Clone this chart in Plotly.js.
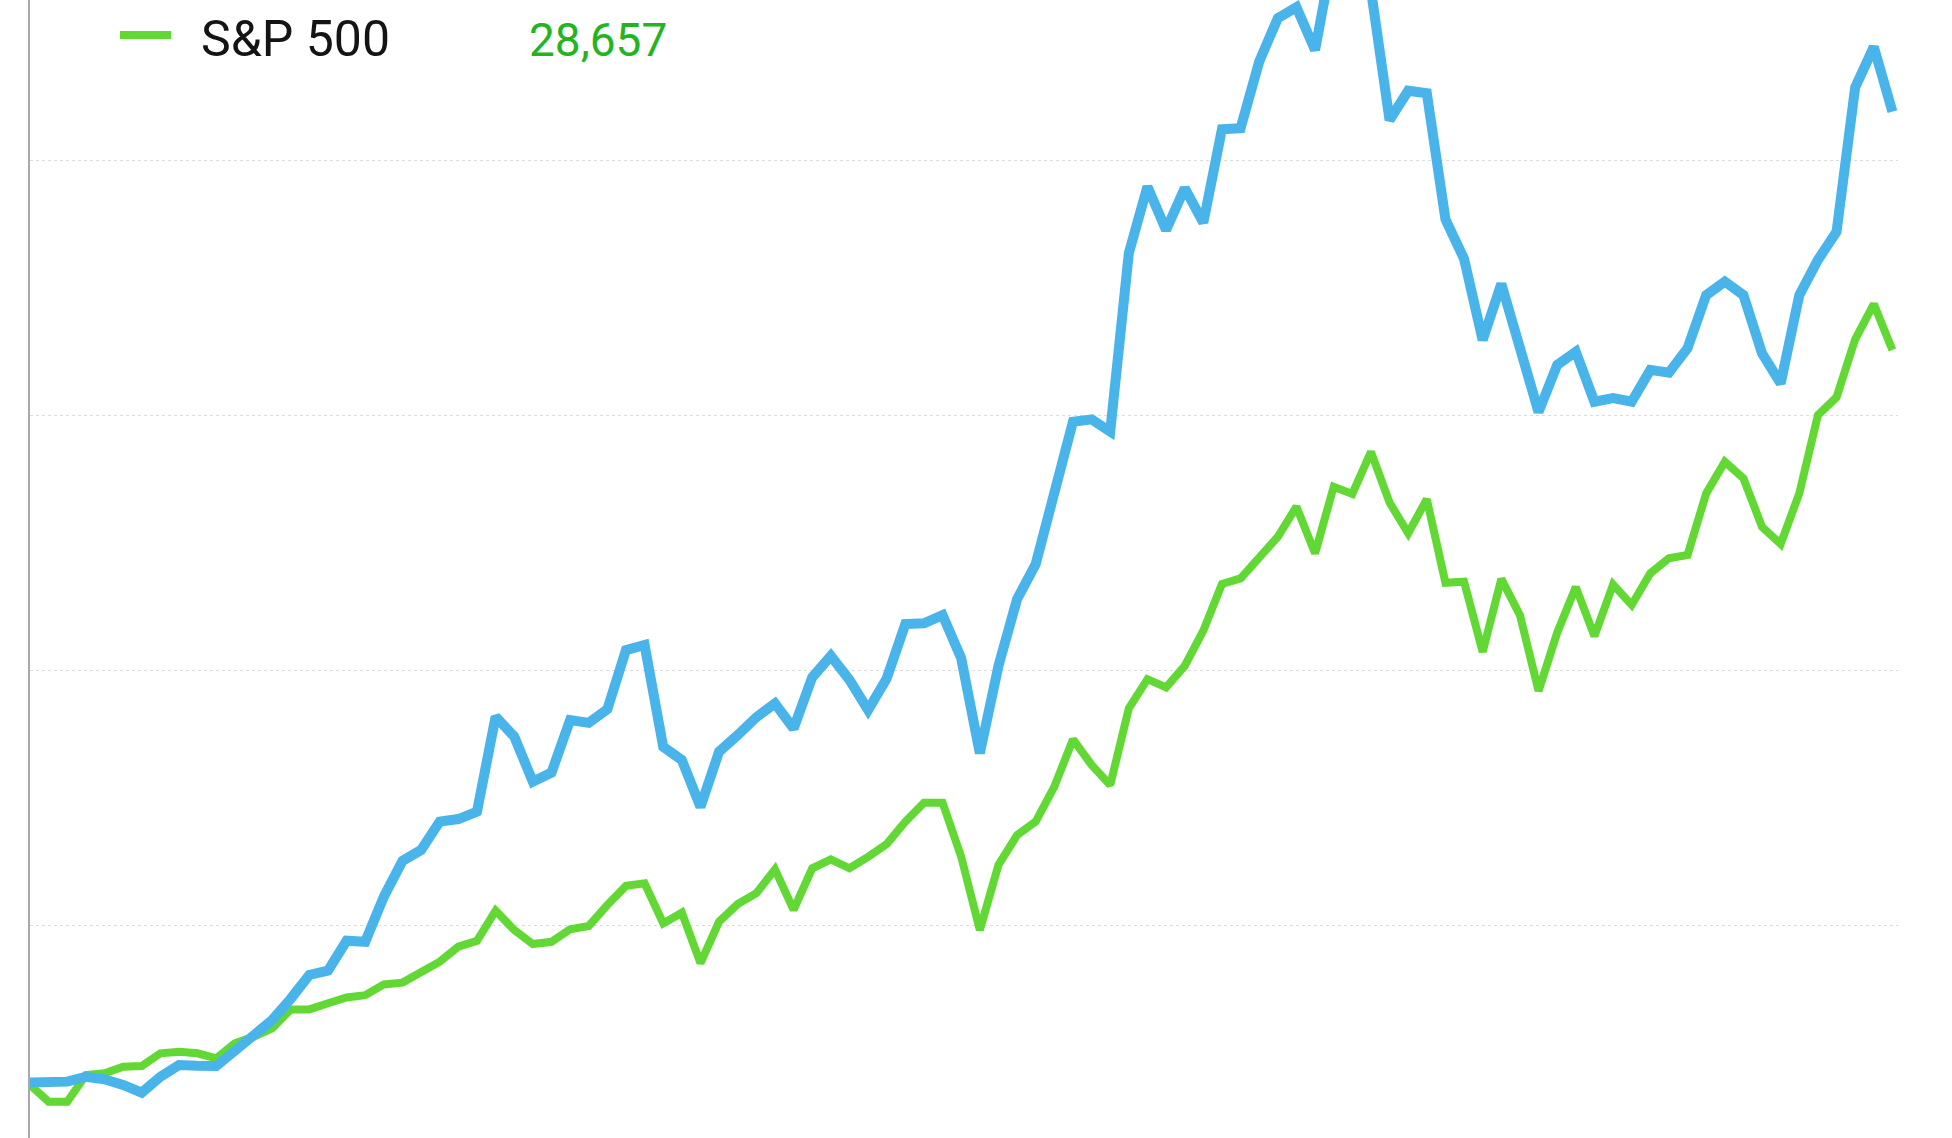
<!DOCTYPE html>
<html>
<head>
<meta charset="utf-8">
<script src="https://cdn.plot.ly/plotly-3.0.1.min.js"></script>
<style>
  html, body { margin: 0; padding: 0; background: #ffffff; }
  #chart { width: 1952px; height: 1138px; }
</style>
</head>
<body>
<div id="chart"></div>
<script>
// Growth values, one point per period
const portfolioValues = [
  13860, 13850, 13890, 14080, 13980, 13760, 13460, 14080, 14540, 14510,
  14500, 15100, 15680, 16300, 17140, 18070, 18240, 19410, 19370, 21140,
  22540, 22970, 24080, 24180, 24470, 28190, 27410, 25640, 26000, 28060,
  27950, 28480, 30800, 31000, 27010, 26490, 24660, 26820, 27470, 28170,
  28710, 27730, 29730, 30570, 29630, 28450, 29690, 31820, 31850, 32170,
  30480, 26760, 30180, 32800, 34170, 36840, 39750, 39840, 39360, 46350,
  48960, 47260, 48900, 47550, 51210, 51250, 53860, 55560, 55990, 54310,
  58230, 59210, 56670, 51570, 52720, 52620, 47680, 46130, 42950, 45150,
  42690, 40130, 41970, 42490, 40530, 40670, 40530, 41780, 41670, 42630,
  44710, 45240, 44710, 42430, 41250, 44710, 46090, 47190, 52850, 54440,
  51900
];
const sp500Values = [
  13760, 13100, 13100, 14150, 14220, 14470, 14500, 15000, 15060, 15000,
  14800, 15390, 15650, 15980, 16720, 16720, 16960, 17190, 17280, 17700,
  17770, 18160, 18590, 19180, 19410, 20590, 19830, 19280, 19370, 19860,
  19990, 20810, 21560, 21660, 20090, 20510, 18530, 20160, 20850, 21270,
  22210, 20620, 22250, 22600, 22250, 22700, 23200, 24080, 24820, 24820,
  22700, 19830, 22380, 23550, 24080, 25450, 27300, 26300, 25510, 28520,
  29660, 29340, 30180, 31560, 33390, 33610, 34400, 35240, 36420, 34590,
  37200, 36920, 38570, 36580, 35380, 36710, 33440, 33480, 30730, 33590,
  32170, 29200, 31480, 33270, 31350, 33370, 32570, 33810, 34400, 34530,
  36940, 38180, 37530, 35630, 34960, 36940, 40010, 40710, 42980, 44360,
  42560
];
const periods = portfolioValues.map((_, i) => i);
const legendName = "S&P 500";
const legendValue = "28,657";

const W = 1952, H = 1138;
const M = { l: 30, r: 54, t: 0, b: 0 };
const plotW = W - M.l - M.r;
const px = (x) => (x - M.l) / plotW;   // pixel -> paper x
const py = (y) => 1 - y / H;           // pixel -> paper y

const greenLine = "#62d834";
const blueLine = "#48b4ea";

const traces = [
  {
    x: periods, y: sp500Values, type: "scatter", mode: "lines",
    name: legendName,
    line: { color: greenLine, width: 8, shape: "linear" },
    hoverinfo: "skip"
  },
  {
    x: periods, y: portfolioValues, type: "scatter", mode: "lines",
    name: "Portfolio",
    line: { color: blueLine, width: 10, shape: "linear" },
    hoverinfo: "skip"
  }
];

const layout = {
  width: W, height: H,
  margin: M,
  paper_bgcolor: "#ffffff",
  plot_bgcolor: "#ffffff",
  showlegend: false,
  hovermode: false,
  xaxis: {
    range: [0, 100.3],
    showgrid: false, zeroline: false, showline: false,
    showticklabels: false, ticks: ""
  },
  yaxis: {
    range: [11681, 56274],
    tick0: 0, dtick: 10000,
    showgrid: true, gridcolor: "#dcdcdc", gridwidth: 1, griddash: "dot",
    zeroline: false,
    showline: true, linecolor: "#a9a9a9", linewidth: 2.5,
    showticklabels: false, ticks: ""
  },
  shapes: [
    {
      type: "line", xref: "paper", yref: "paper",
      x0: px(120), x1: px(171), y0: py(35), y1: py(35),
      line: { color: greenLine, width: 8 }
    }
  ],
  annotations: [
    {
      xref: "paper", yref: "paper",
      x: px(199), y: py(39), xanchor: "left", yanchor: "middle",
      text: legendName, showarrow: false,
      font: { family: "Roboto", size: 50, color: "#141414", weight: 400 }
    },
    {
      xref: "paper", yref: "paper",
      x: px(527), y: py(40), xanchor: "left", yanchor: "middle",
      text: legendValue, showarrow: false,
      font: { family: "Roboto", size: 46, color: "#22b521", weight: 400 }
    }
  ]
};

Plotly.newPlot("chart", traces, layout, { displayModeBar: false, staticPlot: true });
</script>
</body>
</html>
